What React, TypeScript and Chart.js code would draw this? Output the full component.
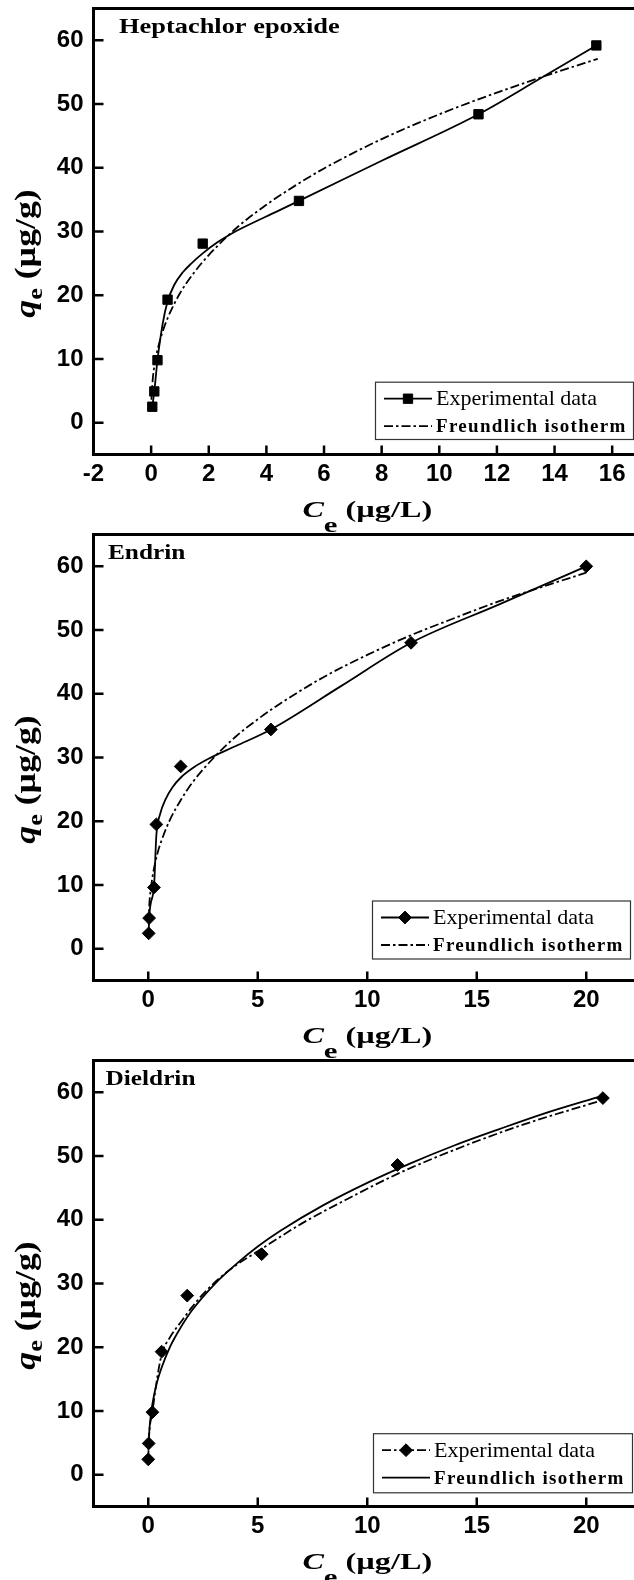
import React, { useEffect, useRef } from 'react';
import { Chart, registerables } from 'chart.js';

Chart.register(...registerables);

const SERIF = '"Liberation Serif", "Times New Roman", serif';
const SANS = '"Liberation Sans", Arial, sans-serif';

// ---------------- data ----------------
const panelNames = ['Heptachlor epoxide', 'Endrin', 'Dieldrin'];
const legendLabels = ['Experimental data', 'Freundlich isotherm'];

// Heptachlor epoxide: measured points, the smoothed line through them, Freundlich fit
const hepExpC = [0.04, 0.11, 0.22, 0.57, 1.79, 5.13, 11.36, 15.45];
const hepExpQ = [2.5, 4.9, 9.8, 19.3, 28.1, 34.8, 48.4, 59.2];
const hepLineC = [0.04, 0.11, 0.22, 0.4, 0.57, 0.8, 1.1, 1.4, 1.8, 2.3, 2.8, 3.5, 4.3, 5.13, 8.0, 11.36, 13.5, 15.45];
const hepLineQ = [2.5, 4.9, 9.8, 15.5, 19.0, 21.6, 23.6, 25.0, 26.6, 28.3, 29.7, 31.3, 33.0, 34.8, 41.1, 48.4, 54.0, 59.2];
const hepFitC = [0.01, 0.05, 0.1, 0.2, 0.4, 0.6, 1, 1.5, 2, 3, 4, 5, 6, 8, 10, 12, 14, 15.5];
const hepFitQ = [3.6, 6.5, 8.5, 11.0, 14.3, 16.7, 20.3, 23.6, 26.3, 30.7, 34.2, 37.2, 39.9, 44.5, 48.4, 51.8, 54.9, 57.1];

// Endrin
const endExpC = [0.02, 0.04, 0.26, 0.37, 1.48, 5.6, 12.0, 20.0];
const endExpQ = [2.4, 4.8, 9.6, 19.5, 28.6, 34.4, 48.0, 60.0];
const endLineC = [0.02, 0.04, 0.26, 0.37, 0.55, 0.8, 1.1, 1.5, 2.1, 2.75, 4.0, 5.6, 8.8, 12.0, 16.0, 20.0];
const endLineQ = [2.4, 4.8, 9.6, 17.8, 21.2, 23.5, 25.3, 26.9, 28.5, 29.8, 31.8, 34.4, 41.2, 48.0, 54.0, 60.0];
const endFitC = [0.01, 0.05, 0.1, 0.2, 0.4, 0.6, 1, 1.5, 2, 3, 4, 5, 6, 8, 10, 12, 14, 16, 18, 20];
const endFitQ = [3.9, 7.0, 8.9, 11.4, 14.7, 16.9, 20.3, 23.4, 26.0, 30.0, 33.3, 36.0, 38.4, 42.6, 46.1, 49.2, 51.9, 54.5, 56.8, 59.0];

// Dieldrin
const dieExpC = [0.0, 0.02, 0.19, 0.61, 1.78, 5.18, 11.38, 20.76];
const dieExpQ = [2.4, 4.9, 9.8, 19.3, 28.1, 34.6, 48.6, 59.1];
const dieLineC = [0.0, 0.02, 0.19, 0.4, 0.61, 1.0, 1.5, 2.0, 2.6, 3.7, 5.16, 7.0, 9.0, 11.38, 14.0, 17.0, 20.76];
const dieLineQ = [2.4, 4.9, 9.8, 15.0, 18.8, 21.6, 24.0, 26.3, 28.7, 32.1, 35.4, 39.4, 43.1, 47.2, 51.0, 54.8, 58.8];
const dieFitC = [0.01, 0.05, 0.1, 0.2, 0.4, 0.6, 1, 1.5, 2, 3, 4, 5, 6, 8, 10, 12, 14, 16, 18, 20.76];
const dieFitQ = [3.9, 6.9, 8.8, 11.3, 14.5, 16.7, 20.1, 23.2, 25.8, 29.8, 33.0, 35.8, 38.2, 42.3, 45.8, 48.9, 51.7, 54.2, 56.6, 59.5];

// tick labels
const hepXTicks = [-2, 0, 2, 4, 6, 8, 10, 12, 14, 16];
const endXTicks = [0, 5, 10, 15, 20];
const dieXTicks = [0, 5, 10, 15, 20];
const qTicks = [0, 10, 20, 30, 40, 50, 60];

// ---------------- styling ----------------
const DASHDOT = [9, 3, 2.5, 3];
const LINE_W = 1.8;
const CANVAS_W = 660;
const CANVAS_H = 540;
const AREA_TOP = 8.5;
const AREA_LEFT = 93.5;
const AREA_RIGHT = 641;
const AREA_H = 446;

type Seg = { t: string; font: string; dy?: number; ls?: number };

function measureSegs(ctx: CanvasRenderingContext2D, segs: Seg[]) {
  let w = 0;
  for (const s of segs) {
    ctx.font = s.font;
    (ctx as any).letterSpacing = (s.ls || 0) + 'px';
    w += ctx.measureText(s.t).width;
  }
  (ctx as any).letterSpacing = '0px';
  return w;
}

function drawSegs(
  ctx: CanvasRenderingContext2D,
  segs: Seg[],
  x: number,
  y: number,
  sx: number,
  align: 'left' | 'center',
  rotate = false
) {
  ctx.save();
  ctx.translate(x, y);
  if (rotate) ctx.rotate(-Math.PI / 2);
  ctx.scale(sx, 1);
  const w = measureSegs(ctx, segs);
  let cx = align === 'center' ? -w / 2 : 0;
  ctx.textAlign = 'left';
  ctx.textBaseline = 'alphabetic';
  ctx.fillStyle = '#000';
  for (const s of segs) {
    ctx.font = s.font;
    (ctx as any).letterSpacing = (s.ls || 0) + 'px';
    ctx.fillText(s.t, cx, s.dy || 0);
    cx += ctx.measureText(s.t).width;
  }
  (ctx as any).letterSpacing = '0px';
  ctx.restore();
}

function drawMarker(ctx: CanvasRenderingContext2D, kind: string, x: number, y: number, r: number) {
  ctx.beginPath();
  if (kind === 'rect') {
    const s = Math.SQRT1_2 * r;
    ctx.rect(x - s, y - s, 2 * s, 2 * s);
  } else {
    ctx.moveTo(x, y - r);
    ctx.lineTo(x + r, y);
    ctx.lineTo(x, y + r);
    ctx.lineTo(x - r, y);
    ctx.closePath();
  }
  ctx.fillStyle = '#000';
  ctx.fill();
  ctx.lineWidth = 1;
  ctx.strokeStyle = '#000';
  ctx.stroke();
}

type PanelCfg = {
  name: string;
  labelDx: number;
  labelSx: number;
  expC: number[];
  expQ: number[];
  lineC: number[];
  lineQ: number[];
  fitC: number[];
  fitQ: number[];
  xMin: number;
  xMax: number;
  xTicks: number[];
  marker: string;
  markerR: number;
  expDash: boolean;
  fitDash: boolean;
  legTop: number;
  legBottom: number;
  legLeft: number;
  legRight: number;
  top: number;
};

function makeDecor(cfg: PanelCfg) {
  return {
    id: 'decor',
    afterDraw(chart: any) {
      const ctx: CanvasRenderingContext2D = chart.ctx;
      const a = chart.chartArea;
      const xs = chart.scales.x;
      const ys = chart.scales.y;
      ctx.save();
      // inward ticks
      ctx.strokeStyle = '#000';
      ctx.lineWidth = 2.5;
      ctx.setLineDash([]);
      ctx.beginPath();
      for (const t of xs.ticks) {
        const px = xs.getPixelForValue(t.value);
        ctx.moveTo(px, a.bottom);
        ctx.lineTo(px, a.bottom - 9);
      }
      for (const t of ys.ticks) {
        const py = ys.getPixelForValue(t.value);
        ctx.moveTo(a.left, py);
        ctx.lineTo(a.left + 10, py);
      }
      ctx.stroke();
      // frame
      ctx.lineWidth = 3;
      ctx.strokeRect(a.left, a.top, a.right - a.left, a.bottom - a.top);

      // panel label
      drawSegs(
        ctx,
        [{ t: cfg.name, font: `bold 22px ${SERIF}` }],
        a.left + cfg.labelDx,
        a.top + 24.5,
        cfg.labelSx,
        'left'
      );

      // x title
      drawSegs(
        ctx,
        [
          { t: 'C', font: `italic bold 23px ${SERIF}` },
          { t: 'e', font: `bold 22px ${SERIF}`, dy: 15 },
          { t: ' (µg/L)', font: `bold 23px ${SERIF}` },
        ],
        (a.left + a.right) / 2,
        a.bottom + 62.5,
        1.4,
        'center'
      );

      // y title (rotated)
      drawSegs(
        ctx,
        [
          { t: 'q', font: `italic bold 30px ${SERIF}` },
          { t: 'e', font: `bold 22px ${SERIF}`, dy: 7 },
          { t: ' (µg/g)', font: `bold 30px ${SERIF}` },
        ],
        35,
        a.top + 245,
        1.19,
        'center',
        true
      );

      // legend box
      const top = a.top + cfg.legTop;
      const bottom = a.top + cfg.legBottom;
      const left = cfg.legLeft;
      ctx.fillStyle = '#fff';
      ctx.fillRect(left, top, cfg.legRight - left, bottom - top);
      ctx.strokeStyle = '#333';
      ctx.lineWidth = 1.2;
      ctx.strokeRect(left + 0.5, top + 0.5, cfg.legRight - left, bottom - top);

      const rows = [
        { y: top + 17, base: top + 23.5, dash: cfg.expDash, marker: true },
        { y: top + 44.5, base: top + 50.5, dash: cfg.fitDash, marker: false },
      ];
      rows.forEach((r, i) => {
        ctx.save();
        ctx.strokeStyle = '#000';
        ctx.lineWidth = LINE_W;
        ctx.setLineDash(r.dash ? DASHDOT : []);
        ctx.beginPath();
        ctx.moveTo(left + 9, r.y);
        ctx.lineTo(left + 57, r.y);
        ctx.stroke();
        ctx.setLineDash([]);
        if (r.marker) drawMarker(ctx, cfg.marker, left + 33, r.y, cfg.markerR);
        ctx.restore();
        if (i === 0) {
          drawSegs(ctx, [{ t: legendLabels[0], font: `21px ${SERIF}` }], left + 61, r.base, 1.05, 'left');
        } else {
          drawSegs(
            ctx,
            [{ t: legendLabels[1], font: `bold 19px ${SERIF}`, ls: 1.3 }],
            left + 61,
            r.base,
            1.0,
            'left'
          );
        }
      });
      ctx.restore();
    },
  };
}

const panels: PanelCfg[] = [
  {
    name: panelNames[0],
    labelDx: 25.5,
    labelSx: 1.2,
    expC: hepExpC,
    expQ: hepExpQ,
    lineC: hepLineC,
    lineQ: hepLineQ,
    fitC: hepFitC,
    fitQ: hepFitQ,
    xMin: -2,
    xMax: 17,
    xTicks: hepXTicks,
    marker: 'rect',
    markerR: 6.6,
    expDash: false,
    fitDash: true,
    legTop: 373.2,
    legBottom: 430.5,
    legLeft: 375,
    legRight: 633,
    top: 0,
  },
  {
    name: panelNames[1],
    labelDx: 14.5,
    labelSx: 1.15,
    expC: endExpC,
    expQ: endExpQ,
    lineC: endLineC,
    lineQ: endLineQ,
    fitC: endFitC,
    fitQ: endFitQ,
    xMin: -2.5,
    xMax: 22.5,
    xTicks: endXTicks,
    marker: 'rectRot',
    markerR: 6.4,
    expDash: false,
    fitDash: true,
    legTop: 366,
    legBottom: 424,
    legLeft: 372,
    legRight: 630,
    top: 526,
  },
  {
    name: panelNames[2],
    labelDx: 12,
    labelSx: 1.15,
    expC: dieExpC,
    expQ: dieExpQ,
    lineC: dieLineC,
    lineQ: dieLineQ,
    fitC: dieFitC,
    fitQ: dieFitQ,
    xMin: -2.5,
    xMax: 22.5,
    xTicks: dieXTicks,
    marker: 'rectRot',
    markerR: 6.4,
    expDash: true,
    fitDash: false,
    legTop: 372.7,
    legBottom: 431.8,
    legLeft: 373,
    legRight: 632,
    top: 1052,
  },
];

function Panel({ cfg }: { cfg: PanelCfg }) {
  const ref = useRef<HTMLCanvasElement>(null);
  useEffect(() => {
    const canvas = ref.current;
    if (!canvas) return;
    const tickFont = { family: SANS, weight: 'bold' as const, size: 24 };
    const chart = new Chart(canvas, {
      type: 'scatter',
      data: {
        datasets: [
          {
            label: legendLabels[0],
            data: cfg.expC.map((c, i) => ({ x: c, y: cfg.expQ[i] })),
            showLine: false,
            borderColor: '#000',
            backgroundColor: '#000',
            pointStyle: cfg.marker as any,
            pointRadius: cfg.markerR,
            pointBorderWidth: 1,
            pointBackgroundColor: '#000',
            pointBorderColor: '#000',
            order: 0,
          } as any,
          {
            label: legendLabels[0] + ' line',
            data: cfg.lineC.map((c, i) => ({ x: c, y: cfg.lineQ[i] })),
            showLine: true,
            borderColor: '#000',
            backgroundColor: '#000',
            borderWidth: LINE_W,
            borderDash: cfg.expDash ? DASHDOT : [],
            pointRadius: 0,
            cubicInterpolationMode: 'monotone',
            order: 1,
          } as any,
          {
            label: legendLabels[1],
            data: cfg.fitC.map((c, i) => ({ x: c, y: cfg.fitQ[i] })),
            showLine: true,
            borderColor: '#000',
            backgroundColor: '#000',
            borderWidth: LINE_W,
            borderDash: cfg.fitDash ? DASHDOT : [],
            pointRadius: 0,
            cubicInterpolationMode: 'monotone',
            order: 2,
          } as any,
        ],
      },
      options: {
        responsive: false,
        maintainAspectRatio: false,
        animation: false,
        devicePixelRatio: 1,
        events: [],
        layout: { padding: { top: AREA_TOP, right: CANVAS_W - AREA_RIGHT, left: 0, bottom: 0 } },
        plugins: {
          legend: { display: false },
          tooltip: { enabled: false },
          title: { display: false },
        },
        scales: {
          x: {
            type: 'linear',
            min: cfg.xMin,
            max: cfg.xMax,
            afterBuildTicks: (s: any) => {
              s.ticks = cfg.xTicks.map((v) => ({ value: v }));
            },
            afterFit: (s: any) => {
              s.height = CANVAS_H - AREA_TOP - AREA_H;
              s.paddingLeft = 0;
              s.paddingRight = 0;
            },
            grid: { display: false, drawTicks: false },
            border: { display: false },
            ticks: {
              autoSkip: false,
              maxRotation: 0,
              minRotation: 0,
              padding: 5,
              color: '#000',
              font: tickFont,
              callback: (v: any) => String(v),
            },
          },
          y: {
            type: 'linear',
            min: -5,
            max: 65,
            afterBuildTicks: (s: any) => {
              s.ticks = qTicks.map((v) => ({ value: v }));
            },
            afterFit: (s: any) => {
              s.width = AREA_LEFT;
              s.paddingTop = 0;
              s.paddingBottom = 0;
            },
            grid: { display: false, drawTicks: false },
            border: { display: false },
            ticks: {
              autoSkip: false,
              padding: 10,
              color: '#000',
              font: tickFont,
              callback: (v: any) => String(v),
            },
          },
        },
      },
      plugins: [makeDecor(cfg)],
    });
    return () => chart.destroy();
  }, [cfg]);
  return (
    <canvas
      ref={ref}
      width={CANVAS_W}
      height={CANVAS_H}
      style={{ position: 'absolute', left: 0, top: cfg.top, width: CANVAS_W, height: CANVAS_H }}
    />
  );
}

export default function App() {
  return (
    <div
      style={{
        position: 'absolute',
        left: 0,
        top: 0,
        width: 634,
        height: 1580,
        overflow: 'hidden',
        background: '#fff',
      }}
    >
      {panels.map((p) => (
        <Panel key={p.name} cfg={p} />
      ))}
    </div>
  );
}
